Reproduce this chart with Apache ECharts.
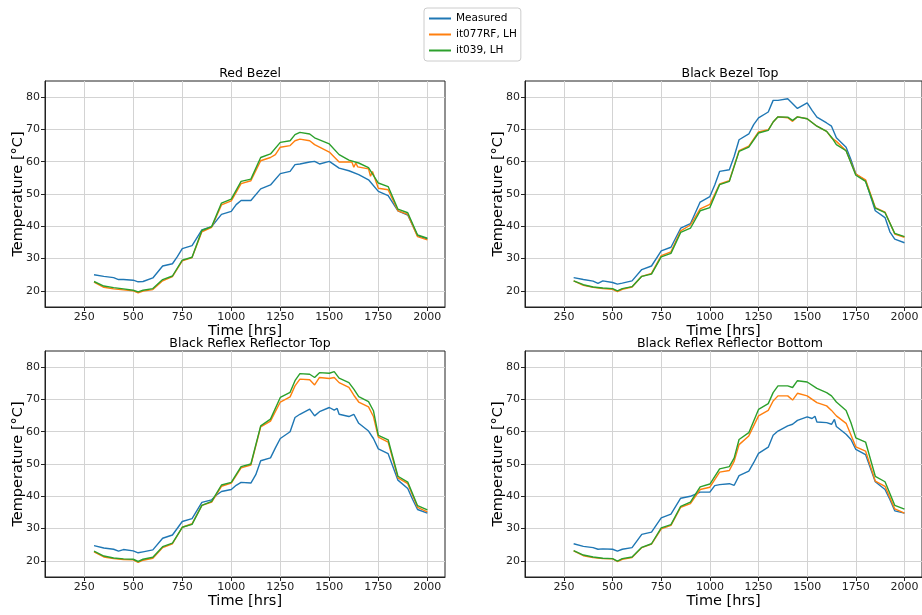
<!DOCTYPE html>
<html>
<head>
<meta charset="utf-8">
<script src="https://cdn.jsdelivr.net/npm/echarts@6/dist/echarts.min.js"></script>
<style>
html,body{margin:0;padding:0;background:#fff;}
#chart{width:922px;height:615px;}
</style>
</head>
<body>
<div id="chart"></div>
<script>
// ---------- data ----------
const seriesNames = ['Measured', 'it077RF, LH', 'it039, LH'];
const panelTitles = ['Red Bezel', 'Black Bezel Top', 'Black Reflex Reflector Top', 'Black Reflex Reflector Bottom'];
const xTicks = [250, 500, 750, 1000, 1250, 1500, 1750, 2000];
const yTicks = [20, 30, 40, 50, 60, 70, 80];

// Red Bezel
const redMeasured = [[300,25.0],[350,24.5],[400,24.1],[425,23.5],[450,23.5],[500,23.3],[525,22.8],[550,22.9],[600,24.0],[650,27.7],[700,28.4],[725,30.6],[750,33.1],[800,34.0],[850,38.9],[900,39.9],[950,43.7],[1000,44.6],[1025,46.7],[1050,48.0],[1100,48.0],[1150,51.6],[1200,52.8],[1250,56.3],[1300,57.0],[1325,59.1],[1350,59.3],[1400,59.9],[1425,60.1],[1450,59.3],[1500,60.1],[1550,58.0],[1600,57.2],[1650,56.0],[1700,54.4],[1750,50.8],[1800,49.5],[1850,44.8],[1900,43.5],[1950,37.1],[2000,36.1]];
const redIt077 = [[300,22.7],[350,21.1],[400,20.6],[450,20.3],[500,20.0],[525,19.4],[550,19.9],[600,20.4],[650,23.1],[700,24.4],[750,29.3],[800,30.3],[850,38.3],[900,39.7],[950,46.6],[1000,47.9],[1050,53.2],[1100,54.1],[1150,60.3],[1200,61.3],[1225,62.2],[1250,64.5],[1300,65.0],[1325,66.5],[1350,67.0],[1400,66.5],[1425,65.3],[1500,63.0],[1550,59.9],[1600,59.9],[1615,59.9],[1625,58.3],[1635,59.6],[1645,58.4],[1650,58.9],[1700,57.8],[1710,55.5],[1720,57.0],[1750,51.8],[1800,51.3],[1850,44.8],[1900,43.7],[1950,36.8],[2000,35.8]];
const redIt039 = [[300,22.9],[350,21.5],[400,21.0],[450,20.6],[500,20.2],[525,19.7],[550,20.2],[600,20.7],[650,23.5],[700,24.6],[750,29.5],[800,30.4],[850,38.7],[900,39.9],[950,47.2],[1000,48.4],[1050,53.9],[1100,54.6],[1150,61.3],[1200,62.4],[1250,66.0],[1300,66.5],[1325,68.4],[1350,69.1],[1400,68.6],[1425,67.4],[1500,65.5],[1550,62.2],[1600,60.5],[1650,59.6],[1700,58.2],[1750,53.4],[1800,52.3],[1850,45.3],[1900,44.2],[1950,37.3],[2000,36.3]];

// Black Bezel Top
const bbtMeasured = [[300,24.1],[350,23.5],[400,23.0],[425,22.3],[450,23.1],[500,22.6],[525,22.1],[550,22.4],[600,23.1],[650,26.6],[700,27.7],[750,32.4],[800,33.5],[850,39.4],[900,40.8],[950,47.5],[1000,49.2],[1025,52.8],[1050,57.0],[1100,57.5],[1125,61.7],[1150,66.8],[1200,68.6],[1225,71.5],[1250,73.6],[1300,75.4],[1325,79.0],[1350,79.0],[1400,79.5],[1450,76.5],[1500,78.2],[1525,75.9],[1550,73.8],[1600,72.0],[1625,71.0],[1650,67.4],[1700,64.5],[1725,60.6],[1750,56.2],[1800,54.1],[1850,44.8],[1900,42.7],[1925,38.3],[1950,36.0],[2000,34.9]];
const bbtIt077 = [[300,23.1],[350,21.7],[400,21.1],[450,20.7],[500,20.5],[525,19.8],[550,20.5],[600,21.2],[650,24.5],[700,25.4],[750,30.9],[800,32.1],[850,38.6],[900,40.4],[950,45.4],[1000,46.8],[1050,53.1],[1100,54.1],[1150,63.4],[1200,64.8],[1250,69.2],[1300,69.9],[1325,72.3],[1350,73.9],[1400,73.6],[1425,72.5],[1450,73.9],[1500,73.3],[1550,71.0],[1600,69.4],[1625,67.4],[1650,66.3],[1700,63.4],[1750,56.2],[1800,54.4],[1850,45.8],[1900,44.4],[1950,37.6],[2000,36.6]];
const bbtIt039 = [[300,23.1],[350,21.9],[400,21.2],[450,20.9],[500,20.7],[525,20.0],[550,20.7],[600,21.3],[650,24.5],[700,25.2],[750,30.5],[800,31.6],[850,38.1],[900,39.4],[950,44.8],[1000,45.8],[1050,52.9],[1100,53.9],[1150,63.2],[1200,64.5],[1250,68.9],[1300,69.7],[1325,72.3],[1350,73.9],[1400,73.8],[1425,72.8],[1450,73.9],[1500,73.3],[1550,71.0],[1600,69.4],[1625,67.6],[1650,65.3],[1700,63.4],[1750,55.8],[1800,53.9],[1850,45.6],[1900,44.2],[1950,37.8],[2000,36.8]];

// Black Reflex Reflector Top
const brtMeasured = [[300,24.7],[350,24.0],[400,23.6],[425,23.0],[450,23.5],[500,23.1],[525,22.5],[550,22.8],[600,23.4],[650,27.0],[700,28.0],[750,32.2],[800,33.1],[850,38.1],[900,38.9],[925,40.4],[950,41.5],[1000,42.1],[1025,43.4],[1050,44.3],[1100,44.1],[1125,46.7],[1150,51.0],[1200,51.9],[1225,55.0],[1250,57.9],[1300,60.0],[1325,64.4],[1350,65.4],[1400,67.0],[1425,64.9],[1450,66.2],[1500,67.5],[1525,66.7],[1540,67.2],[1550,65.4],[1600,64.7],[1625,65.4],[1650,62.6],[1700,60.2],[1725,57.9],[1750,54.7],[1800,53.2],[1850,45.0],[1900,42.4],[1925,39.0],[1950,35.9],[2000,34.8]];
const brtIt077 = [[300,22.8],[350,21.2],[400,20.7],[450,20.4],[500,20.3],[525,19.5],[550,20.2],[600,20.8],[650,24.1],[700,25.3],[750,30.4],[800,31.5],[850,37.2],[900,38.2],[950,43.1],[1000,44.1],[1050,48.8],[1100,49.7],[1150,61.5],[1200,63.3],[1250,69.2],[1300,70.8],[1325,74.2],[1350,76.3],[1400,76.1],[1425,74.5],[1450,76.8],[1500,76.5],[1525,76.8],[1550,75.2],[1600,73.7],[1625,71.3],[1650,69.2],[1700,67.7],[1725,64.7],[1750,58.3],[1800,56.8],[1850,45.7],[1900,43.9],[1950,36.6],[2000,35.2]];
const brtIt039 = [[300,23.0],[350,21.5],[400,20.9],[450,20.6],[500,20.5],[525,19.8],[550,20.5],[600,21.1],[650,24.4],[700,25.5],[750,30.4],[800,31.3],[850,37.2],[900,38.4],[950,43.5],[1000,44.3],[1050,49.2],[1100,50.0],[1150,61.8],[1200,63.9],[1250,70.6],[1300,72.2],[1325,75.8],[1350,78.0],[1400,77.8],[1425,76.8],[1450,78.3],[1500,78.1],[1525,78.6],[1550,76.6],[1600,75.2],[1625,73.2],[1650,70.9],[1700,69.3],[1725,66.5],[1750,58.9],[1800,57.5],[1850,46.2],[1900,44.4],[1950,37.1],[2000,35.8]];

// Black Reflex Reflector Bottom
const brbMeasured = [[300,25.3],[350,24.5],[400,24.1],[425,23.6],[450,23.7],[500,23.6],[525,23.0],[550,23.6],[600,24.1],[650,28.2],[700,28.9],[750,33.3],[800,34.5],[850,39.4],[900,40.0],[950,41.3],[1000,41.3],[1025,43.3],[1050,43.6],[1100,43.9],[1125,43.4],[1150,46.4],[1200,47.8],[1225,50.4],[1250,53.3],[1300,55.2],[1325,58.9],[1350,60.2],[1400,61.8],[1425,62.3],[1450,63.5],[1500,64.6],[1525,64.1],[1540,64.8],[1550,63.0],[1600,62.8],[1625,62.3],[1640,63.8],[1650,61.6],[1700,59.2],[1725,57.6],[1750,54.5],[1800,52.9],[1850,44.5],[1900,42.1],[1925,39.0],[1950,35.5],[2000,34.8]];
const brbIt077 = [[300,23.1],[350,21.6],[400,21.0],[450,20.7],[500,20.6],[525,19.8],[550,20.5],[600,21.0],[650,24.1],[700,25.2],[750,29.9],[800,31.0],[850,36.6],[900,37.7],[950,42.1],[1000,42.8],[1050,47.5],[1100,48.0],[1125,50.9],[1150,56.0],[1200,58.7],[1250,64.9],[1300,66.6],[1325,69.5],[1350,71.1],[1400,71.1],[1425,69.8],[1450,71.9],[1500,71.1],[1550,69.0],[1600,68.0],[1625,66.6],[1650,64.9],[1700,62.6],[1725,59.0],[1750,55.3],[1800,54.0],[1850,44.7],[1900,43.1],[1950,36.1],[2000,34.8]];
const brbIt039 = [[300,23.2],[350,21.8],[400,21.2],[450,20.8],[500,20.7],[525,19.9],[550,20.7],[600,21.2],[650,24.2],[700,25.3],[750,30.2],[800,31.2],[850,36.9],[900,38.2],[950,42.9],[1000,43.8],[1050,48.5],[1100,49.2],[1125,51.9],[1150,57.6],[1200,59.7],[1250,66.9],[1300,68.7],[1325,72.1],[1350,74.2],[1400,74.2],[1425,73.7],[1450,75.8],[1500,75.4],[1550,73.4],[1600,72.1],[1625,71.1],[1650,69.2],[1700,66.6],[1725,62.8],[1750,58.1],[1800,56.8],[1850,46.2],[1900,44.5],[1950,37.2],[2000,36.0]];

const panelData = [
  [redMeasured, redIt077, redIt039],
  [bbtMeasured, bbtIt077, bbtIt039],
  [brtMeasured, brtIt077, brtIt039],
  [brbMeasured, brbIt077, brbIt039]
];
const colors = ['#1f77b4', '#ff7f0e', '#2ca02c'];

// ---------- layout ----------
const FONT = 'DejaVu Sans';
const grids = [
  {left: 45, top: 81, width: 400, height: 226},
  {left: 525, top: 81, width: 400, height: 226},
  {left: 45, top: 351, width: 400, height: 226},
  {left: 525, top: 351, width: 400, height: 226}
];

const option = {
  animation: false,
  backgroundColor: '#fff',
  color: colors,
  textStyle: {fontFamily: FONT},
  title: panelTitles.map((t, i) => ({
    text: t,
    left: grids[i].left + 200,
    top: grids[i].top - 19,
    textAlign: 'center',
    textStyle: {fontFamily: FONT, fontSize: 12.5, fontWeight: 'normal', color: '#000'}
  })),
  legend: {
    data: seriesNames,
    orient: 'vertical',
    left: 424,
    top: 8,
    icon: 'rect',
    itemWidth: 22,
    itemHeight: 2,
    itemGap: 5,
    padding: [5, 4, 5, 5],
    borderColor: '#ccc',
    borderWidth: 1,
    borderRadius: 3,
    backgroundColor: '#fff',
    textStyle: {fontFamily: FONT, fontSize: 10.5, color: '#000'}
  },
  grid: grids.map(g => Object.assign({show: true, borderColor: '#222', borderWidth: 1, backgroundColor: 'transparent', containLabel: false}, g)),
  xAxis: grids.map((g, i) => ({
    type: 'value',
    gridIndex: i,
    min: 50,
    max: 2090,
    name: 'Time [hrs]',
    nameLocation: 'middle',
    nameGap: 17,
    nameMoveOverlap: false,
    nameTextStyle: {fontFamily: FONT, fontSize: 14.5, color: '#000', verticalAlign: 'top'},
    axisLine: {show: true, onZero: false, lineStyle: {color: '#222', width: 1}},
    axisTick: {show: true, length: 4, customValues: xTicks, lineStyle: {color: '#222'}},
    axisLabel: {customValues: xTicks, formatter: v => String(v), fontFamily: FONT, fontSize: 11, color: '#222', margin: 5},
    splitLine: {show: true, customValues: xTicks, lineStyle: {color: '#d3d3d3', width: 1}}
  })),
  yAxis: grids.map((g, i) => ({
    type: 'value',
    gridIndex: i,
    min: 15,
    max: 85,
    name: 'Temperature [°C]',
    nameLocation: 'middle',
    nameGap: 19,
    nameMoveOverlap: false,
    nameRotate: 90,
    nameTextStyle: {fontFamily: FONT, fontSize: 14.5, color: '#000', verticalAlign: 'bottom'},
    axisLine: {show: true, onZero: false, lineStyle: {color: '#222', width: 1}},
    axisTick: {show: true, length: 4, customValues: yTicks, lineStyle: {color: '#222'}},
    axisLabel: {customValues: yTicks, formatter: v => String(v), fontFamily: FONT, fontSize: 11, color: '#222', margin: 5},
    splitLine: {show: true, customValues: yTicks, lineStyle: {color: '#d3d3d3', width: 1}}
  })),
  series: []
};

panelData.forEach((sets, p) => {
  sets.forEach((d, s) => {
    option.series.push({
      type: 'line',
      name: seriesNames[s],
      xAxisIndex: p,
      yAxisIndex: p,
      data: d,
      showSymbol: false,
      symbol: 'none',
      lineStyle: {width: 1.4, color: colors[s]},
      itemStyle: {color: colors[s]},
      clip: true
    });
  });
});

const chart = echarts.init(document.getElementById('chart'), null, {renderer: 'canvas'});
chart.setOption(option);
</script>
</body>
</html>
